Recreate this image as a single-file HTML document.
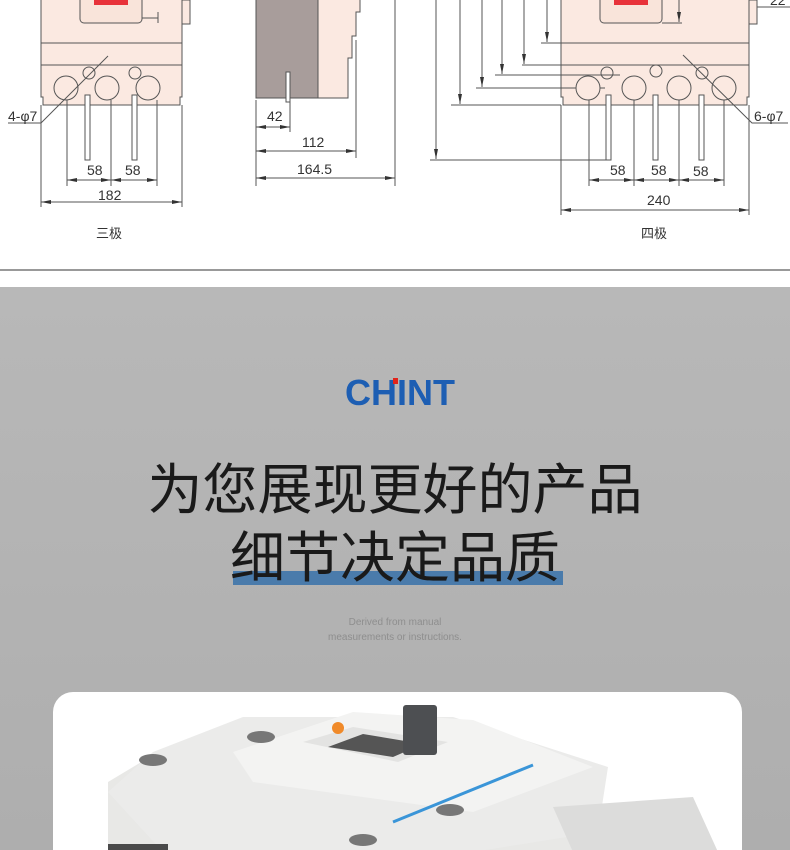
<!DOCTYPE html>
<html><head><meta charset="utf-8"><style>
html,body{margin:0;padding:0;width:790px;height:850px;overflow:hidden;background:#fff}
.wrap{position:relative;width:790px;height:850px}
.gray{position:absolute;left:0;top:287px;width:790px;height:563px;background:linear-gradient(#b8b8b8,#b2b2b2 60%,#aeaeae)}
.t{position:absolute;left:0;width:790px;text-align:center;font-family:"Liberation Sans","Noto Sans CJK SC",sans-serif;color:#1a1a1a}
</style></head><body><div class="wrap">
<svg width="790" height="287" style="position:absolute;left:0;top:0" font-family="Liberation Sans, Noto Sans CJK SC, sans-serif" font-size="14" fill="#333">
<defs><marker id="a" viewBox="0 0 10 6" refX="10" refY="3" markerWidth="10" markerHeight="6" orient="auto-start-reverse"><path d="M0,1 L10,3 L0,5z" fill="#333"/></marker></defs>
<g stroke="#555" stroke-width="1" fill="none">
<!-- 3 pole -->
<path d="M41,0 V97 h2 v8 H180 v-8 h2 V0" fill="#fbe9e1"/>
<rect x="80" y="-5" width="62" height="28" rx="4" fill="#f9e4da"/>
<rect x="94" y="0" width="34" height="5" fill="#e8323a" stroke="none"/>
<line x1="41" y1="43" x2="182" y2="43"/><line x1="41" y1="65" x2="182" y2="65"/>
<path d="M142,18 H158 M158,12 V23"/>
<rect x="182" y="0" width="8" height="24" fill="#fbe9e1"/>
<circle cx="66" cy="88" r="12" fill="#fbe9e1"/><circle cx="107" cy="88" r="12" fill="#fbe9e1"/><circle cx="148" cy="88" r="12" fill="#fbe9e1"/>
<circle cx="89" cy="73" r="6"/><circle cx="135" cy="73" r="6"/>
<rect x="85" y="95" width="5" height="65" fill="#fff"/><rect x="132" y="95" width="5" height="65" fill="#fff"/>
<path d="M41,123 L108,56"/><line x1="8" y1="123" x2="41" y2="123"/>
<line x1="67" y1="100" x2="67" y2="186"/><line x1="111" y1="100" x2="111" y2="186"/><line x1="157" y1="100" x2="157" y2="186"/>
<line x1="41" y1="105" x2="41" y2="207"/><line x1="182" y1="105" x2="182" y2="207"/>
<line x1="67" y1="180" x2="111" y2="180" marker-start="url(#a)" marker-end="url(#a)"/>
<line x1="111" y1="180" x2="157" y2="180" marker-start="url(#a)" marker-end="url(#a)"/>
<line x1="41" y1="202" x2="182" y2="202" marker-start="url(#a)" marker-end="url(#a)"/>
<!-- side -->
<rect x="256" y="-2" width="62" height="100" fill="#a89d9b"/>
<path d="M318,-2 V98 H348 V58 H352 V36 H356 V12 H360 V-2z" fill="#fbe9e1"/>
<rect x="286" y="72" width="4" height="30" fill="#fff"/>
<line x1="256" y1="100" x2="256" y2="186"/><line x1="290" y1="100" x2="290" y2="132"/>
<line x1="356" y1="40" x2="356" y2="158"/><line x1="395" y1="0" x2="395" y2="186"/>
<line x1="256" y1="127" x2="290" y2="127" marker-start="url(#a)" marker-end="url(#a)"/>
<line x1="256" y1="151" x2="356" y2="151" marker-start="url(#a)" marker-end="url(#a)"/>
<line x1="256" y1="178" x2="395" y2="178" marker-start="url(#a)" marker-end="url(#a)"/>
<!-- 4 pole -->
<path d="M561,0 V97 h2 v8 H747 v-8 h2 V0" fill="#fbe9e1"/>
<rect x="600" y="-5" width="62" height="28" rx="4" fill="#f9e4da"/>
<rect x="614" y="0" width="34" height="5" fill="#e8323a" stroke="none"/>
<line x1="541" y1="43" x2="749" y2="43"/><line x1="522" y1="65" x2="749" y2="65"/>
<line x1="495" y1="75" x2="620" y2="75"/><line x1="476" y1="88" x2="605" y2="88"/><line x1="451" y1="105" x2="561" y2="105"/><line x1="430" y1="160" x2="608" y2="160"/>
<line x1="662" y1="23" x2="682" y2="23"/>
<rect x="749" y="0" width="8" height="24" fill="#fbe9e1"/>
<circle cx="588" cy="88" r="12" fill="#fbe9e1"/><circle cx="634" cy="88" r="12" fill="#fbe9e1"/><circle cx="679" cy="88" r="12" fill="#fbe9e1"/><circle cx="724" cy="88" r="12" fill="#fbe9e1"/>
<circle cx="607" cy="73" r="6"/><circle cx="656" cy="71" r="6"/><circle cx="702" cy="73" r="6"/>
<rect x="606" y="95" width="5" height="65" fill="#fff"/><rect x="653" y="95" width="5" height="65" fill="#fff"/><rect x="699" y="95" width="5" height="65" fill="#fff"/>
<path d="M683,55 L752,123 H788"/>
<g marker-end="url(#a)"><line x1="436" y1="0" x2="436" y2="159"/><line x1="460" y1="0" x2="460" y2="104"/><line x1="482" y1="0" x2="482" y2="87"/><line x1="502" y1="0" x2="502" y2="74"/><line x1="524" y1="0" x2="524" y2="64"/><line x1="547" y1="0" x2="547" y2="42"/><line x1="679" y1="0" x2="679" y2="22"/></g>
<line x1="589" y1="100" x2="589" y2="186"/><line x1="634" y1="100" x2="634" y2="186"/><line x1="679" y1="100" x2="679" y2="186"/><line x1="724" y1="100" x2="724" y2="186"/>
<line x1="561" y1="105" x2="561" y2="215"/><line x1="749" y1="105" x2="749" y2="215"/>
<line x1="589" y1="180" x2="634" y2="180" marker-start="url(#a)" marker-end="url(#a)"/>
<line x1="634" y1="180" x2="679" y2="180" marker-start="url(#a)" marker-end="url(#a)"/>
<line x1="679" y1="180" x2="724" y2="180" marker-start="url(#a)" marker-end="url(#a)"/>
<line x1="561" y1="210" x2="749" y2="210" marker-start="url(#a)" marker-end="url(#a)"/>
<line x1="757" y1="7" x2="790" y2="7"/>
<line x1="0" y1="270" x2="790" y2="270" stroke="#333"/>
</g>
<text x="8" y="121">4-φ7</text>
<text x="87" y="175">58</text><text x="125" y="175">58</text><text x="98" y="200">182</text>
<text x="267" y="121">42</text><text x="302" y="147">112</text><text x="297" y="174">164.5</text>
<text x="754" y="121">6-φ7</text><text x="770" y="5">22</text>
<text x="610" y="175">58</text><text x="651" y="175">58</text><text x="693" y="176">58</text><text x="647" y="205">240</text>
<text x="96" y="238" font-size="13">三极</text><text x="641" y="238" font-size="13">四极</text>
</svg>
<div class="gray"></div>
<div style="position:absolute;left:345px;top:372px;font:bold 36px 'Liberation Sans',sans-serif;color:#1d5eb3;letter-spacing:0px">CHINT</div>
<div style="position:absolute;left:393px;top:378px;width:5px;height:6px;background:#e2231a"></div>
<div class="t" style="top:458px;font-size:55px;line-height:64px">为您展现更好的产品</div>
<div style="position:absolute;left:233px;top:571px;width:330px;height:14px;background:#4a7bab"></div>
<div class="t" style="top:526px;font-size:55px;line-height:64px">细节决定品质</div>
<div class="t" style="top:615px;font-size:10px;line-height:15px;color:#8e8e8e">Derived from manual<br>measurements or instructions.</div>
<div style="position:absolute;left:53px;top:692px;width:689px;height:180px;background:#fff;border-radius:20px;overflow:hidden">
<svg width="689" height="160">
<path d="M55,90 L100,63 L540,80 L560,158 L55,160z" fill="#e8e8e6"/>
<path d="M100,60 L190,25 L400,25 L555,75 L545,140 L420,160 L110,160 L55,100z" fill="#ebebea"/>
<path d="M180,60 L300,20 L420,28 L540,75 L420,120 L200,90z" fill="#f3f3f2"/>
<path d="M250,50 L300,35 L395,50 L345,70z" fill="#e3e3e2"/>
<path d="M275,55 L310,42 L370,52 L340,65z" fill="#555"/>
<rect x="350" y="13" width="34" height="50" rx="3" fill="#4d4f52"/>
<path d="M340,130 L480,73" stroke="#3a95d8" stroke-width="3"/>
<circle cx="285" cy="36" r="6" fill="#f08a2a"/>
<path d="M55,152 L115,152 L115,160 L55,160z" fill="#4a4a4a"/>
<path d="M500,115 L640,105 L665,160 L520,160z" fill="#dcdcdb"/>
<ellipse cx="397" cy="118" rx="14" ry="6" fill="#777"/><ellipse cx="310" cy="148" rx="14" ry="6" fill="#777"/>
<ellipse cx="100" cy="68" rx="14" ry="6" fill="#777"/><ellipse cx="208" cy="45" rx="14" ry="6" fill="#777"/>
</svg></div>
</div></body></html>
